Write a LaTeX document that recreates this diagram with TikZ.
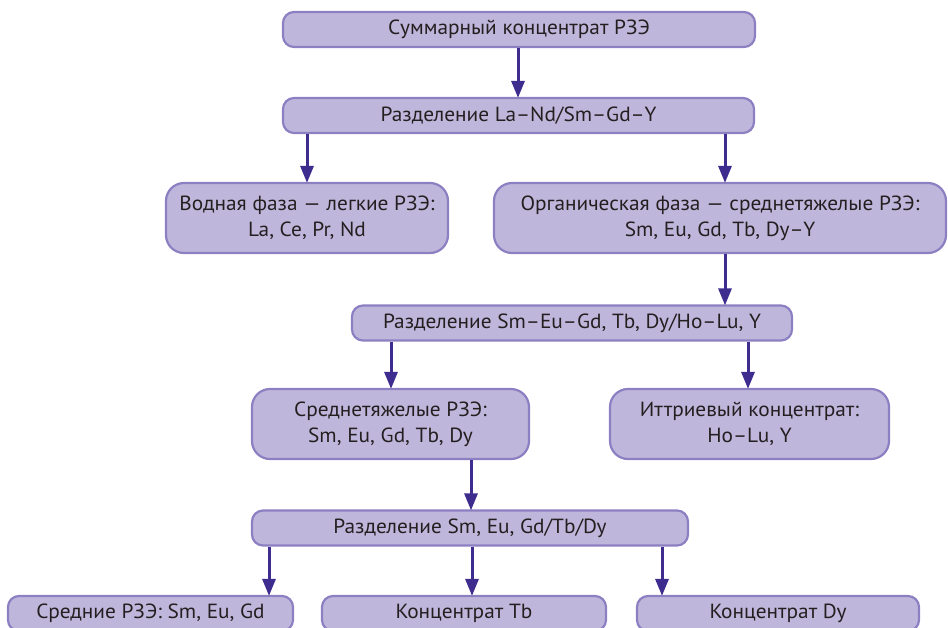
\documentclass[tikz,border=0pt]{standalone}
\usepackage{fontspec}
\setmainfont[FakeStretch=1.04]{PT Sans}
\usetikzlibrary{arrows.meta}
\definecolor{boxfill}{HTML}{BFB7DB}
\definecolor{boxline}{HTML}{8C80C2}
\definecolor{flow}{HTML}{3E2C8F}
\definecolor{txt}{HTML}{231F20}
\tikzset{
  box/.style={draw=boxline, fill=boxfill, line width=2.2pt, rounded corners=11pt,
    text=txt, font=\fontsize{20.5}{26}\selectfont, align=center, inner sep=0pt},
  onebox/.style={box, minimum height=35pt},
  twobox/.style={box, minimum height=70pt, rounded corners=18pt},
  flowarrow/.style={draw=flow, line width=3pt,
    -{Triangle[length=17pt,width=13pt]}, shorten >=-1pt},
}
\begin{document}
\begin{tikzpicture}[x=1pt,y=-1pt]
\useasboundingbox (0,0) rectangle (948,627);
% first level
\node[onebox, minimum width=472pt] (sum) at (519,29.5) {Суммарный концентрат РЗЭ};
\node[onebox, minimum width=471pt] (sep1) at (518.5,115.5) {Разделение La–Nd/Sm–Gd–Y};
% aqueous / organic phases
\node[twobox, minimum width=282pt] (aq) at (307,218) {Водная фаза — легкие РЗЭ:\\La, Ce, Pr, Nd};
\node[twobox, minimum width=452pt] (org) at (720,218) {Органическая фаза — среднетяжелые РЗЭ:\\Sm, Eu, Gd, Tb, Dy–Y};
% second separation
\node[onebox, minimum width=440pt] (sep2) at (572,323) {Разделение Sm–Eu–Gd, Tb, Dy/Ho–Lu, Y};
\node[twobox, minimum width=277pt] (mid) at (390.5,424) {Среднетяжелые РЗЭ:\\Sm, Eu, Gd, Tb, Dy};
\node[twobox, minimum width=279pt] (yt) at (749.5,424) {Иттриевый концентрат:\\Ho–Lu, Y};
% third separation
\node[onebox, minimum width=436pt] (sep3) at (470,528) {Разделение Sm, Eu, Gd/Tb/Dy};
\node[onebox, minimum width=285pt] (smeu) at (150.5,613.5) {Средние РЗЭ: Sm, Eu, Gd};
\node[onebox, minimum width=284pt] (tb) at (464,613.5) {Концентрат Tb};
\node[onebox, minimum width=282pt] (dy) at (778,613.5) {Концентрат Dy};
% connectors
\coordinate (c1) at (518,0);
\coordinate (c2) at (307,0);
\coordinate (c3) at (725,0);
\coordinate (c4) at (391,0);
\coordinate (c5) at (748,0);
\coordinate (c6) at (471,0);
\coordinate (c7) at (269,0);
\coordinate (c8) at (472,0);
\coordinate (c9) at (662,0);
\draw[flowarrow] (sum.south -| c1) -- (sep1.north -| c1);
\draw[flowarrow] (sep1.south -| c2) -- (aq.north -| c2);
\draw[flowarrow] (sep1.south -| c3) -- (org.north -| c3);
\draw[flowarrow] (org.south -| c3) -- (sep2.north -| c3);
\draw[flowarrow] (sep2.south -| c4) -- (mid.north -| c4);
\draw[flowarrow] (sep2.south -| c5) -- (yt.north -| c5);
\draw[flowarrow] (mid.south -| c6) -- (sep3.north -| c6);
\draw[flowarrow] (sep3.south -| c7) -- (smeu.north -| c7);
\draw[flowarrow] (sep3.south -| c8) -- (tb.north -| c8);
\draw[flowarrow] (sep3.south -| c9) -- (dy.north -| c9);
\end{tikzpicture}
\end{document}
